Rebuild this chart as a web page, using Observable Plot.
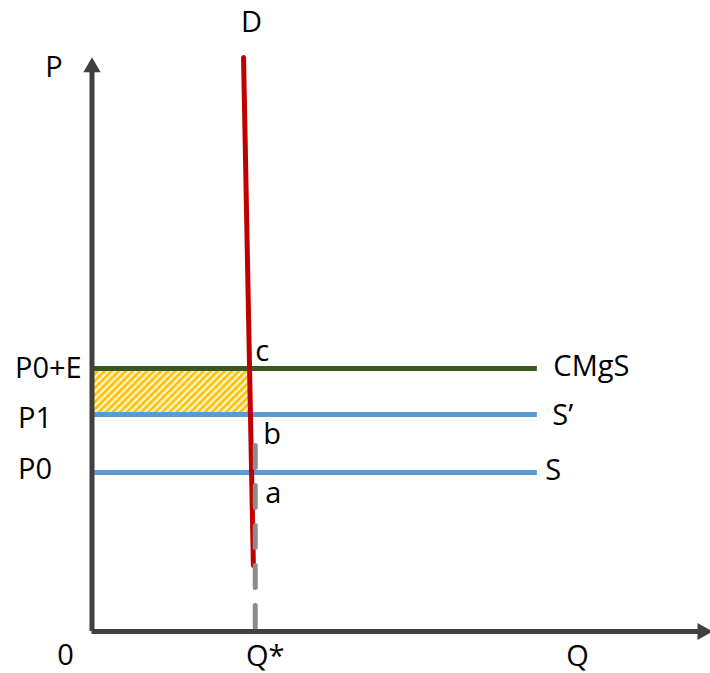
<!DOCTYPE html>
<html>
<head>
<meta charset="utf-8">
<script src="https://cdn.jsdelivr.net/npm/d3@7"></script>
<script src="https://cdn.jsdelivr.net/npm/@observablehq/plot@0.6"></script>
<style>
  html, body { margin: 0; padding: 0; background: #fff; overflow: hidden; }
  svg { display: block; }
</style>
</head>
<body>
<div id="chart"></div>
<script>
// ---- data (economic units) ----
const axisLabels = ["P", "Q", "0"];
const priceLabels = ["P0+E", "P1", "P0"];
const priceValues = [4.58, 3.78, 2.77];
const curveLabels = ["CMgS", "S’", "S"];
const pointLabels = ["c", "b", "a"];
const qStar = 2.65;
const qStarLabel = "Q*";
const supplyEnd = 7.23;
const demandLabel = "D";
const demandQ = [2.46, 2.62];
const demandP = [10, 1.15];
const dashTopP = 3.24;
const axisEndQ = 9.91;
const axisEndP = 9.83;
const qLabelQ = 7.88;

const FONT = "Open Sans";
const FS = 29;

const demand = demandQ.map((q, i) => ({q, p: demandP[i]}));
const supplyLines = priceValues.map((p, i) => ({name: curveLabels[i], p}));
const hatch = [{q1: 0, q2: 2.6, p1: priceValues[1], p2: priceValues[0]}];
const dash = [{q: qStar, p: dashTopP}, {q: qStar, p: 0}];

const lineColors = ["#385723", "#5b9bd5", "#5b9bd5"];
const axisColor = "#404040";

const txt = (data, opts) => Plot.text(data, {fontFamily: FONT, fontSize: FS, fill: "#000", ...opts});

const chart = Plot.plot({
  width: 710,
  height: 673,
  margin: 0,
  x: {domain: [0, 10], range: [91.5, 707.5], axis: null},
  y: {domain: [0, 10], range: [631, 57], axis: null},
  style: {background: "#fff"},
  marks: [
    // hatched area
    Plot.rect(hatch, {x1: "q1", x2: "q2", y1: "p1", y2: "p2", fill: "url(#hatchPattern)"}),
    // horizontal supply / cost lines
    ...supplyLines.map((d, i) =>
      Plot.ruleY([d], {y: "p", x1: 0, x2: supplyEnd, stroke: lineColors[i], strokeWidth: 5})
    ),
    // demand
    Plot.line(demand, {x: "q", y: "p", stroke: "#c00000", strokeWidth: 5}),
    // dashed Q* line
    Plot.line(dash, {x: "q", y: "p", stroke: "#8c8c8c", strokeWidth: 5, strokeDasharray: "22,18"}),
    // axes
    Plot.ruleX([0], {y1: 0, y2: axisEndP, stroke: axisColor, strokeWidth: 5}),
    Plot.ruleY([0], {x1: 0, x2: axisEndQ, stroke: axisColor, strokeWidth: 5}),
    Plot.dot([{q: 0, p: axisEndP}], {x: "q", y: "p", symbol: "triangle", r: 6.4, fill: axisColor, stroke: "none"}),
    Plot.dot([{q: axisEndQ, p: 0}], {x: "q", y: "p", symbol: "triangle", r: 6.4, rotate: 90, fill: axisColor, stroke: "none"}),
    // axis labels
    txt([axisLabels[0]], {x: 0, y: axisEndP, dx: -38, text: d => d}),
    txt([axisLabels[1]], {x: qLabelQ, y: 0, dy: 25, text: d => d}),
    txt([axisLabels[2]], {x: 0, y: 0, dx: -26.5, dy: 24, text: d => d}),
    txt([qStarLabel], {x: qStar, y: 0, dx: 10, dy: 25, text: d => d}),
    txt([demandLabel], {x: demandQ[0], y: demandP[0], dx: 8, dy: -34.5, text: d => d}),
    // price labels
    txt([0], {x: 0, y: priceValues[0], dx: -77, dy: 0.5, textAnchor: "start", text: () => priceLabels[0]}),
    txt([1], {x: 0, y: priceValues[1], dx: -74, dy: 4.5, textAnchor: "start", text: () => priceLabels[1]}),
    txt([2], {x: 0, y: priceValues[2], dx: -74, dy: -3, textAnchor: "start", text: () => priceLabels[2]}),
    // curve labels
    txt([0], {x: supplyEnd, y: priceValues[0], dx: 16, dy: -2, textAnchor: "start", text: () => curveLabels[0]}),
    txt([1], {x: supplyEnd, y: priceValues[1], dx: 15, dy: 1, textAnchor: "start", text: () => curveLabels[1]}),
    txt([2], {x: supplyEnd, y: priceValues[2], dx: 8, dy: -2, textAnchor: "start", text: () => curveLabels[2]}),
    // point labels
    txt([0], {x: qStar, y: priceValues[0], dx: 0, dy: -17, textAnchor: "start", text: () => pointLabels[0]}),
    txt([1], {x: qStar, y: priceValues[1], dx: 8, dy: 20, textAnchor: "start", text: () => pointLabels[1]}),
    txt([2], {x: qStar, y: priceValues[2], dx: 10, dy: 21, textAnchor: "start", text: () => pointLabels[2]})
  ]
});

// hatch pattern definition
const svg = d3.select(chart);
const defs = svg.insert("defs", ":first-child");
const pat = defs.append("pattern")
  .attr("id", "hatchPattern")
  .attr("patternUnits", "userSpaceOnUse")
  .attr("width", 5).attr("height", 5)
  .attr("patternTransform", "rotate(45)");
pat.append("rect").attr("width", 5).attr("height", 5).attr("fill", "#fff4cf");
pat.append("rect").attr("width", 2.6).attr("height", 5).attr("fill", "#ffc000");

document.getElementById("chart").appendChild(chart);
</script>
</body>
</html>
